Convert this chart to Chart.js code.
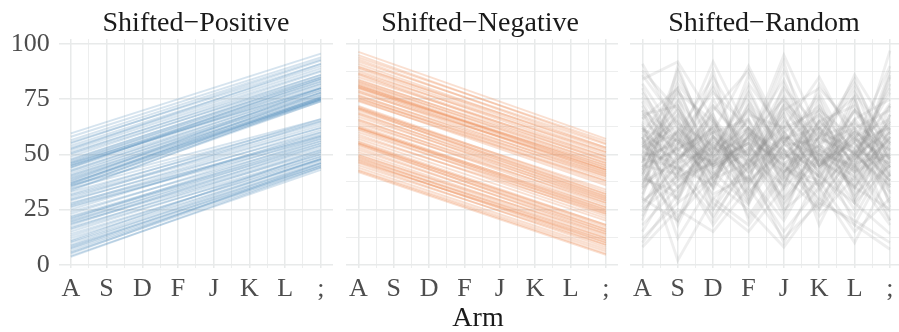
<!DOCTYPE html>
<html>
<head>
<meta charset="utf-8">
<script src="https://cdn.jsdelivr.net/npm/chart.js@4.4.1/dist/chart.umd.min.js"></script>
<style>
  html, body { margin: 0; padding: 0; background: #fff; overflow: hidden; }
  #wrap { position: relative; width: 899px; height: 332px; font-family: "Liberation Serif", "DejaVu Serif", serif; }
  .panel { position: absolute; top: 0; height: 332px; }
  .strip { position: absolute; top: 6px; font-size: 28px; line-height: 32px; color: #1a1a1a; text-align: center; white-space: nowrap; transform: translateX(-50%); }
  #xtitle { position: absolute; top: 301px; left: 478px; font-size: 28px; line-height: 32px; color: #1a1a1a; transform: translateX(-50%); }
</style>
</head>
<body>
<div id="wrap">
  <div class="panel" style="left:0px;width:333px"><canvas id="c1"></canvas></div>
  <div class="panel" style="left:343px;width:275px"><canvas id="c2"></canvas></div>
  <div class="panel" style="left:627px;width:275px"><canvas id="c3"></canvas></div>
  <div class="strip" style="left:196px">Shifted−Positive</div>
  <div class="strip" style="left:480px">Shifted−Negative</div>
  <div class="strip" style="left:764px">Shifted−Random</div>
  <div id="xtitle">Arm</div>
</div>
<script>
// x categories
const arms = ['A', 'S', 'D', 'F', 'J', 'K', 'L', ';'];
const yTickLabels = [0, 25, 50, 75, 100];

// Shifted-Positive: value at A and at ; (lines are straight)
const posStart = [59.5, 58, 56.5, 55.5, 55, 54, 53, 52.5, 52, 51, 50.5, 50, 49, 48, 47.5, 47, 46.5, 46, 46, 45.5, 45, 45, 44.5, 44, 44,
                  43, 42.5, 42, 41, 40.5, 40, 39.5, 39, 38.5, 38, 37.5, 37, 37, 36.5, 36, 35.5, 35, 34, 33.5,
                  36, 34.5, 33, 32, 31.5, 31, 30, 29.5, 29, 28, 27.5, 27, 26.5, 26, 25, 24, 23, 22, 21.5, 21, 20.5, 20, 19.5,
                  19, 18.5, 18, 17, 16.5, 16, 15, 14, 13, 12, 11, 10.5, 10, 9, 8.5, 8, 7.5, 7, 6, 5.5, 5, 4, 3.5];
const posEnd   = [95.7, 94, 93, 91, 92.5, 90, 89, 91, 88, 86, 87.5, 85, 86, 84, 85, 83, 84.5, 82, 80, 83, 81, 80, 82, 79, 84,
                  78, 80, 77, 79, 76, 78, 75.5, 77, 75, 80, 75, 76, 74.5, 78, 75, 74, 76, 74, 75,
                  66, 65, 64, 66, 63, 62, 65, 60, 62, 58, 61, 59, 57, 58.5, 60, 56, 58, 55, 54, 57, 56, 53, 55,
                  52, 51, 54, 50, 52, 49, 50, 48, 49, 47.5, 51, 48, 46, 48, 45, 47, 46, 44.5, 45, 44, 46, 43, 44];

// Shifted-Negative: value at A and at ;
const negStart = [96.5, 95, 94, 93, 92, 91, 90, 89.5, 89, 88, 87, 86.5, 86, 85, 84, 83.5, 83, 82.5, 82, 81.5, 81, 81, 80.5, 80, 80,
                  79, 78.5, 78, 77, 76.5, 76, 75.5, 75, 74.5, 74,
                  72, 71.5, 71, 71, 70.5, 70, 69, 68.5, 68, 67, 66, 65.5, 65, 64, 63, 62.5, 62, 62, 61.5, 61, 60, 59, 58, 57,
                  56, 55.5, 55, 55, 54.5, 54, 53, 52, 51, 50, 49.5, 49, 48.5, 48, 47.5, 47, 46.5, 46, 45, 44, 43, 42.5, 42];
const negEnd   = [57, 55, 56, 53, 54.5, 52, 51, 53, 50, 49, 51, 48, 47, 49, 46, 47.5, 45, 46, 44, 43, 43, 44, 42, 45, 41,
                  42, 40, 43, 39, 41, 38, 37, 40, 36, 38,
                  33, 32, 31, 34, 30, 32, 29, 31, 28, 30, 27, 29, 26, 28, 25, 24, 26, 23, 25, 22, 24, 21, 23, 20,
                  18, 17, 16, 18, 15, 16, 14, 15, 13, 12, 14, 11, 10, 12, 9, 10, 11, 8, 9, 7, 6, 5, 4.5];

// Shifted-Random: one row per line, values at A S D F J K L ;
const randLines = [
  [91, 62, 48, 70, 55, 40, 58, 35],
  [84, 92, 66, 50, 72, 45, 60, 52],
  [78, 55, 92, 60, 42, 65, 50, 72],
  [72, 48, 60, 90, 58, 47, 38, 60],
  [66, 80, 45, 55, 95, 60, 42, 50],
  [60, 40, 75, 48, 62, 85, 55, 38],
  [55, 70, 50, 65, 40, 52, 86, 60],
  [52, 35, 58, 42, 70, 50, 45, 97],
  [48, 65, 40, 58, 45, 68, 52, 30],
  [45, 52, 68, 35, 60, 42, 70, 55],
  [42, 75, 52, 62, 38, 58, 48, 65],
  [40, 30, 55, 45, 68, 35, 62, 42],
  [38, 58, 35, 72, 50, 65, 40, 58],
  [35, 48, 62, 38, 78, 45, 66, 48],
  [32, 62, 45, 55, 35, 72, 50, 78],
  [30, 20, 50, 32, 55, 40, 28, 45],
  [28, 45, 25, 48, 30, 55, 35, 25],
  [25, 38, 55, 22, 45, 30, 50, 35],
  [22, 50, 32, 40, 20, 48, 25, 55],
  [18, 35, 48, 28, 52, 22, 40, 18],
  [12, 28, 40, 52, 25, 38, 15, 30],
  [8, 25, 15, 35, 12, 28, 20, 10],
  [50, 2, 30, 18, 40, 25, 45, 20],
  [58, 12, 38, 25, 8, 30, 18, 7],
  [62, 45, 18, 40, 15, 35, 10, 42],
  [70, 58, 28, 15, 35, 50, 28, 62],
  [46, 88, 52, 78, 48, 62, 38, 68],
  [52, 60, 85, 58, 75, 45, 70, 50],
  [57, 47, 70, 88, 55, 78, 48, 82],
  [44, 68, 50, 82, 60, 42, 78, 55],
  [63, 42, 58, 50, 88, 55, 62, 40],
  [49, 55, 45, 52, 80, 62, 50, 73],
  [54, 43, 56, 47, 58, 53, 44, 60],
  [47, 57, 49, 60, 52, 45, 57, 48],
  [51, 46, 53, 44, 56, 50, 61, 45],
  [59, 50, 47, 55, 48, 60, 53, 63],
  [43, 53, 60, 49, 63, 47, 55, 38],
  [56, 39, 51, 57, 45, 52, 42, 57],
  [41, 61, 44, 53, 42, 58, 64, 52],
  [65, 52, 41, 59, 50, 44, 58, 66],
  [37, 47, 63, 41, 57, 62, 46, 50],
  [61, 56, 46, 62, 44, 38, 60, 44],
  [53, 63, 39, 46, 65, 49, 36, 58],
  [45, 41, 57, 37, 54, 57, 51, 33],
  [68, 72, 42, 58, 38, 65, 72, 48],
  [39, 33, 60, 66, 43, 36, 56, 62],
  [57, 78, 65, 45, 72, 55, 80, 40],
  [34, 54, 72, 54, 30, 48, 35, 52],
  [48, 44, 36, 68, 62, 70, 57, 20],
  [76, 52, 62, 33, 50, 40, 66, 75],
  [29, 40, 46, 56, 27, 52, 43, 86],
  [53, 66, 30, 44, 58, 28, 52, 46],
  [62, 35, 53, 70, 41, 63, 30, 56],
  [44, 60, 42, 27, 66, 45, 60, 28],
  [82, 58, 78, 62, 46, 54, 47, 65],
  [36, 72, 44, 50, 22, 60, 32, 45],
  [55, 30, 65, 38, 52, 32, 74, 36],
  [15, 42, 22, 45, 10, 42, 22, 50],
  [67, 50, 82, 46, 70, 80, 62, 70],
  [40, 85, 58, 42, 58, 36, 50, 60],
  [88, 70, 38, 62, 28, 50, 40, 85],
  [30, 90, 48, 72, 35, 82, 58, 38],
  [74, 42, 88, 30, 60, 72, 35, 58],
  [20, 60, 35, 80, 46, 25, 65, 40],
  [58, 28, 72, 52, 92, 38, 76, 32],
  [46, 78, 25, 60, 40, 75, 30, 68],
  [80, 48, 66, 28, 74, 58, 82, 52],
  [26, 55, 80, 44, 68, 34, 52, 80],
  [64, 18, 52, 76, 32, 66, 45, 24],
  [50, 68, 34, 58, 84, 48, 70, 44],
  [35, 82, 60, 30, 55, 76, 42, 64],
  [70, 38, 46, 66, 24, 58, 84, 46],
  [10, 32, 58, 36, 62, 18, 50, 36],
  [42, 22, 40, 62, 48, 70, 28, 14],
  [86, 64, 54, 38, 82, 44, 56, 90],
  [54, 74, 20, 48, 36, 62, 76, 26],
  [24, 46, 68, 20, 42, 54, 34, 72],
  [68, 56, 38, 74, 52, 26, 48, 62],
  [44, 20, 64, 50, 76, 52, 18, 48],
  [60, 80, 44, 86, 56, 68, 44, 88]
];

const gridCol = '#e8eaea';
const fontFam = '"Liberation Serif", "DejaVu Serif", serif';

function straightLines(starts, ends) {
  return starts.map((s, i) => [{ x: 0, y: s }, { x: arms.length - 1, y: ends[i] }]);
}

function makeChart(id, lines, color, lw, showY) {
  const datasets = lines.map(pts => ({
    data: pts,
    borderColor: color,
    borderWidth: lw,
    pointRadius: 0,
    tension: 0,
    fill: false
  }));
  new Chart(document.getElementById(id), {
    type: 'line',
    data: { datasets: datasets },
    options: {
      animation: false,
      responsive: true,
      maintainAspectRatio: false,
      events: [],
      layout: { padding: { top: 39, left: 0, right: 0, bottom: 0 } },
      plugins: { legend: { display: false }, tooltip: { enabled: false } },
      scales: {
        x: {
          type: 'linear',
          min: -0.34,
          max: 7.34,
          afterBuildTicks: s => {
            const t = [];
            for (let v = 0; v <= 7; v += 0.5) t.push({ value: v });
            s.ticks = t;
          },
          afterFit: s => { s.height = 64; },
          border: { display: false },
          grid: {
            color: gridCol,
            drawTicks: false,
            lineWidth: c => (Number.isInteger(c.tick.value) ? 1.5 : 0.8)
          },
          ticks: {
            autoSkip: false,
            maxRotation: 0,
            padding: 6,
            color: '#4d4d4d',
            font: { family: fontFam, size: 26 },
            callback: v => (Number.isInteger(v) ? arms[v] : '')
          }
        },
        y: {
          min: -1.5,
          max: 102.3,
          afterBuildTicks: s => {
            const t = [];
            for (let v = 0; v <= 100; v += 12.5) t.push({ value: v });
            s.ticks = t;
          },
          afterFit: s => { s.width = showY ? 58.7 : 0; },
          border: { display: false },
          grid: {
            color: gridCol,
            drawTicks: false,
            lineWidth: c => (c.tick.value % 25 === 0 ? 1.5 : 0.8)
          },
          ticks: {
            display: showY,
            padding: 9,
            color: '#4d4d4d',
            font: { family: fontFam, size: 26 },
            callback: v => (yTickLabels.includes(v) ? String(v) : '')
          }
        }
      }
    }
  });
}

makeChart('c1', straightLines(posStart, posEnd), 'rgba(70,130,180,0.22)', 1.9, true);
makeChart('c2', straightLines(negStart, negEnd), 'rgba(236,128,66,0.25)', 1.9, false);
makeChart('c3', randLines.map(r => r.map((v, i) => ({ x: i, y: v }))), 'rgba(140,140,140,0.15)', 2.8, false);
</script>
</body>
</html>
